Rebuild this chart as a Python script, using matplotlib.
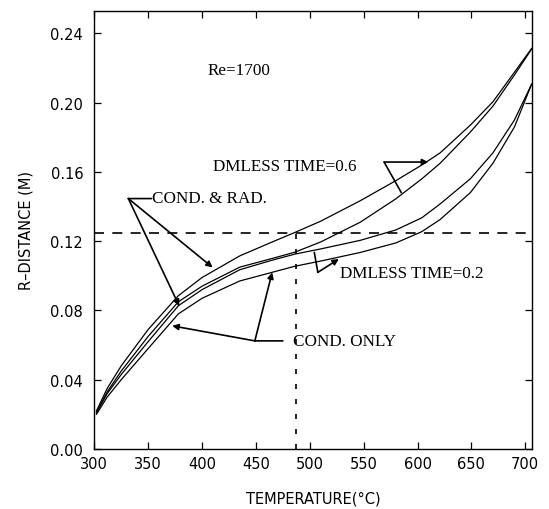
import matplotlib.pyplot as plt

# temperature (deg C) sample points
temp = [302, 312, 325, 350, 378, 400, 435, 465, 486, 510, 547, 580, 604, 621, 649, 670, 690, 706]

# dimensionless time = 0.6
r_rad_06 = [0.022, 0.035, 0.048, 0.069, 0.0885, 0.099, 0.1115, 0.1195, 0.125, 0.1315, 0.1434, 0.155, 0.164, 0.171, 0.187, 0.2005, 0.2176, 0.2314]
r_cond_06 = [0.021, 0.033, 0.045, 0.065, 0.085, 0.094, 0.105, 0.110, 0.1136, 0.1195, 0.131, 0.1445, 0.156, 0.165, 0.183, 0.198, 0.216, 0.231]
# dimensionless time = 0.2
r_rad_02 = [0.021, 0.032, 0.043, 0.062, 0.0827, 0.092, 0.1035, 0.109, 0.1125, 0.1155, 0.1205, 0.1265, 0.1335, 0.1415, 0.156, 0.171, 0.190, 0.2108]
r_cond_02 = [0.020, 0.030, 0.040, 0.058, 0.078, 0.087, 0.097, 0.102, 0.1055, 0.1085, 0.1135, 0.119, 0.1255, 0.1325, 0.148, 0.165, 0.186, 0.2108]

r_crit = 0.125
t_crit = 487

xticks = [300, 350, 400, 450, 500, 550, 600, 650, 700]
yticks = [0.00, 0.04, 0.08, 0.12, 0.16, 0.20, 0.24]

fig = plt.figure(figsize=(5.49, 5.10), dpi=100)
ax = fig.add_axes([0.1718, 0.1178, 0.7967, 0.8592])

for r in (r_rad_06, r_cond_06, r_rad_02, r_cond_02):
    ax.plot(temp, r, color='black', lw=0.9)

ax.axhline(r_crit, color='black', lw=1.2, linestyle=(0, (6, 5)))
ax.plot([t_crit, t_crit], [0, r_crit], color='black', lw=1.2, linestyle=(0, (3, 6)))

ax.set_xlim(300, 706)
ax.set_ylim(0, 0.2531)
ax.set_xticks(xticks)
ax.set_yticks(yticks)
ax.set_yticklabels([f'{v:.2f}' for v in yticks])
ax.tick_params(direction='in', top=True, right=True, length=5, width=0.9, labelsize=10.5)
ax.tick_params(axis='y', pad=8)
ax.tick_params(axis='x', pad=5)
for s in ax.spines.values():
    s.set_linewidth(1.0)

ax.set_xlabel('TEMPERATURE(°C)', fontsize=10.5, labelpad=14)
ax.set_ylabel('R\u2013DISTANCE (M)', fontsize=10.5, labelpad=12)

serif = 'Liberation Serif'
fs = 12.3
ax.text(434, 0.2188, 'Re=1700', family=serif, fontsize=fs, ha='center', va='center')

arrow = dict(arrowstyle='-|>', lw=1.2, color='black', mutation_scale=9, shrinkA=0, shrinkB=0)
line = dict(arrowstyle='-', lw=1.2, color='black', shrinkA=0, shrinkB=0)

# DMLESS TIME=0.6
ax.text(410, 0.1637, 'DMLESS TIME=0.6', family=serif, fontsize=fs, ha='left', va='center')
ax.annotate('', xy=(610, 0.1657), xytext=(569, 0.1657), arrowprops=arrow)
ax.annotate('', xy=(585, 0.148), xytext=(569, 0.1657), arrowprops=line)

# COND. & RAD.
ax.text(354, 0.1448, 'COND. & RAD.', family=serif, fontsize=fs, ha='left', va='center')
ax.annotate('', xy=(353, 0.1446), xytext=(331.6, 0.1446), arrowprops=line)
ax.annotate('', xy=(409.8, 0.1048), xytext=(331.6, 0.1446), arrowprops=arrow)
ax.annotate('', xy=(378.8, 0.0826), xytext=(331.6, 0.1446), arrowprops=arrow)

# COND. ONLY
ax.text(484, 0.0624, 'COND. ONLY', family=serif, fontsize=fs, ha='left', va='center')
ax.annotate('', xy=(475, 0.0624), xytext=(449, 0.0624), arrowprops=line)
ax.annotate('', xy=(372.3, 0.0711), xytext=(449, 0.0624), arrowprops=arrow)
ax.annotate('', xy=(465.1, 0.102), xytext=(449, 0.0624), arrowprops=arrow)

# DMLESS TIME=0.2
ax.text(528, 0.1016, 'DMLESS TIME=0.2', family=serif, fontsize=fs, ha='left', va='center')
ax.annotate('', xy=(504.2, 0.1135), xytext=(507.5, 0.102), arrowprops=line)
ax.annotate('', xy=(527, 0.1097), xytext=(507.5, 0.102), arrowprops=arrow)

fig.savefig('out.png', dpi=100)
